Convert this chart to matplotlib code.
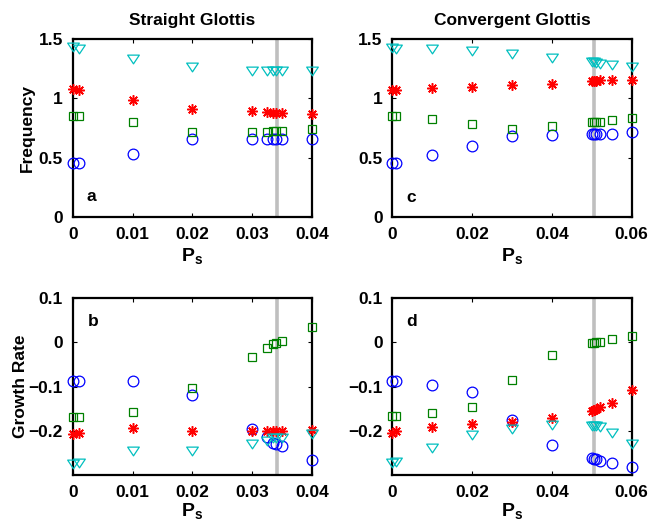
import matplotlib
matplotlib.use("Agg")
import matplotlib.pyplot as plt
import numpy as np
from matplotlib.path import Path

plt.rcParams['font.family'] = ['Liberation Sans', 'DejaVu Sans']
plt.rcParams['font.weight'] = 'bold'
plt.rcParams['mathtext.fontset'] = 'custom'
plt.rcParams['mathtext.bf'] = 'Liberation Sans:bold'
plt.rcParams['mathtext.rm'] = 'Liberation Sans:bold'
plt.rcParams['mathtext.it'] = 'Liberation Sans:bold'

# ---- data: straight glottis ----
xs_a = [0, 0.001, 0.01, 0.02, 0.03, 0.0325, 0.0335, 0.034, 0.035, 0.04]
fa_circ = [0.451, 0.457, 0.53, 0.654, 0.657, 0.657, 0.657, 0.657, 0.657, 0.657]
fa_sq = [0.854, 0.85, 0.798, 0.713, 0.713, 0.72, 0.727, 0.727, 0.727, 0.739]
fa_star = [1.077, 1.075, 0.986, 0.913, 0.893, 0.885, 0.88, 0.88, 0.88, 0.868]
fa_tri = [1.437, 1.415, 1.33, 1.268, 1.232, 1.23, 1.228, 1.228, 1.228, 1.23]

gb_circ = [-0.088, -0.087, -0.087, -0.119, -0.196, -0.215, -0.227, -0.229, -0.234, -0.266]
gb_sq = [-0.168, -0.168, -0.158, -0.104, -0.034, -0.013, -0.003, -0.001, 0.004, 0.034]
gb_star = [-0.207, -0.205, -0.194, -0.2, -0.2, -0.2, -0.2, -0.2, -0.2, -0.198]
gb_tri = [-0.275, -0.272, -0.245, -0.245, -0.229, -0.223, -0.217, -0.217, -0.217, -0.207]

# ---- data: convergent glottis ----
xs_c = [0, 0.001, 0.01, 0.02, 0.03, 0.04, 0.05, 0.0505, 0.051, 0.052, 0.055, 0.06]
fc_circ = [0.453, 0.458, 0.524, 0.60, 0.679, 0.693, 0.699, 0.70, 0.70, 0.70, 0.702, 0.713]
fc_sq = [0.855, 0.855, 0.826, 0.787, 0.744, 0.77, 0.798, 0.798, 0.80, 0.804, 0.815, 0.832]
fc_star = [1.075, 1.075, 1.084, 1.095, 1.11, 1.124, 1.146, 1.146, 1.148, 1.152, 1.158, 1.16]
fc_tri = [1.43, 1.415, 1.42, 1.40, 1.378, 1.345, 1.31, 1.31, 1.30, 1.293, 1.28, 1.265]

gd_circ = [-0.088, -0.087, -0.097, -0.113, -0.175, -0.232, -0.262, -0.264, -0.264, -0.268, -0.273, -0.282]
gd_sq = [-0.166, -0.166, -0.16, -0.145, -0.085, -0.029, -0.002, -0.001, 0.001, 0.002, 0.008, 0.014]
gd_star = [-0.204, -0.2, -0.191, -0.185, -0.18, -0.172, -0.155, -0.153, -0.151, -0.147, -0.137, -0.107]
gd_tri = [-0.272, -0.27, -0.239, -0.21, -0.195, -0.187, -0.189, -0.19, -0.19, -0.192, -0.204, -0.23]

vline_a = 0.0342
vline_c = 0.0506

titles = ["Straight Glottis", "Convergent Glottis"]
panel_labels = ["a", "c", "b", "d"]

tri = Path([(-1, 0.75), (1, 0.75), (0, -0.75), (-1, 0.75)],
           [Path.MOVETO, Path.LINETO, Path.LINETO, Path.CLOSEPOLY])

fig = plt.figure(figsize=(6.48, 5.25), dpi=100)
W, H = 648, 525
def ax_at(l, t, r, b):
    return fig.add_axes([l / W, 1 - b / H, (r - l) / W, (b - t) / H])

ax_a = ax_at(72.7, 39.3, 312, 216.7)
ax_c = ax_at(392.3, 39.3, 631.7, 216.7)
ax_b = ax_at(72.7, 298.3, 312, 475)
ax_d = ax_at(392.3, 298.3, 631.7, 475)

def draw(ax, x, circ, sq, star, trip, vx):
    ax.axvline(vx, color=(0.75, 0.75, 0.75), lw=2.6, zorder=1)
    kw = dict(ls='none', mfc='none', zorder=3, clip_on=False)
    ax.plot(x, circ, marker='o', ms=7.7, mec=(0, 0, 1), mew=0.9, **kw)
    ax.plot(x, sq, marker='s', ms=6.0, mec=(0, 0.5, 0), mew=0.9, **kw)
    ax.plot(x, star, marker=(8, 2, 0), ms=7.5, mec=(1, 0, 0), mew=1.1, **kw)
    ax.plot(x, trip, marker=tri, ms=8.4, mec=(0, 0.75, 0.75), mew=0.9, **kw)

draw(ax_a, xs_a, fa_circ, fa_sq, fa_star, fa_tri, vline_a)
draw(ax_c, xs_c, fc_circ, fc_sq, fc_star, fc_tri, vline_c)
draw(ax_b, xs_a, gb_circ, gb_sq, gb_star, gb_tri, vline_a)
draw(ax_d, xs_c, gd_circ, gd_sq, gd_star, gd_tri, vline_c)

for ax in (ax_a, ax_b):
    ax.set_xlim(0, 0.04)
    ax.set_xticks([0, 0.01, 0.02, 0.03, 0.04])
    ax.set_xticklabels(['0', '0.01', '0.02', '0.03', '0.04'])
for ax in (ax_c, ax_d):
    ax.set_xlim(0, 0.06)
    ax.set_xticks([0, 0.02, 0.04, 0.06])
    ax.set_xticklabels(['0', '0.02', '0.04', '0.06'])
for ax in (ax_a, ax_c):
    ax.set_ylim(0, 1.5)
    ax.set_yticks([0, 0.5, 1, 1.5])
    ax.set_yticklabels(['0', '0.5', '1', '1.5'])
for ax in (ax_b, ax_d):
    ax.set_ylim(-0.3, 0.1)
    ax.set_yticks([-0.2, -0.1, 0, 0.1])
    ax.set_yticklabels(['\u22120.2', '\u22120.1', '0', '0.1'])

for ax, lab, pos, xl in zip((ax_a, ax_c, ax_b, ax_d), panel_labels,
                            [(0.079, 0.113), (0.077, 0.109), (0.086, 0.868), (0.081, 0.868)],
                            [-0.163, -0.163, -0.145, -0.145]):
    ax.text(pos[0], pos[1], lab, transform=ax.transAxes, ha='center', va='center',
            fontsize=12.5, fontweight='bold')
    ax.tick_params(direction='in', top=True, right=True, length=3, width=0.8,
                   labelsize=12.5)
    ax.tick_params(axis='x', pad=7.5)
    ax.tick_params(axis='y', pad=7)
    for t in ax.get_xticklabels() + ax.get_yticklabels():
        t.set_fontweight('bold')
    for s in ax.spines.values():
        s.set_linewidth(1.6)
    ax.set_xlabel(r'$\mathbf{P_s}$', fontsize=14, va='top')
    ax.xaxis.set_label_coords(0.5, xl)

ax_a.set_title(titles[0], fontsize=12.5, fontweight='bold', pad=10)
ax_c.set_title(titles[1], fontsize=12.5, fontweight='bold', pad=10)
ax_a.set_ylabel('Frequency', fontsize=12.5, fontweight='bold', va='center')
ax_a.yaxis.set_label_coords(-0.19, 0.5)
ax_b.set_ylabel('Growth Rate', fontsize=12.5, fontweight='bold', va='center')
ax_b.yaxis.set_label_coords(-0.22, 0.5)

fig.savefig('out.png', dpi=100)
